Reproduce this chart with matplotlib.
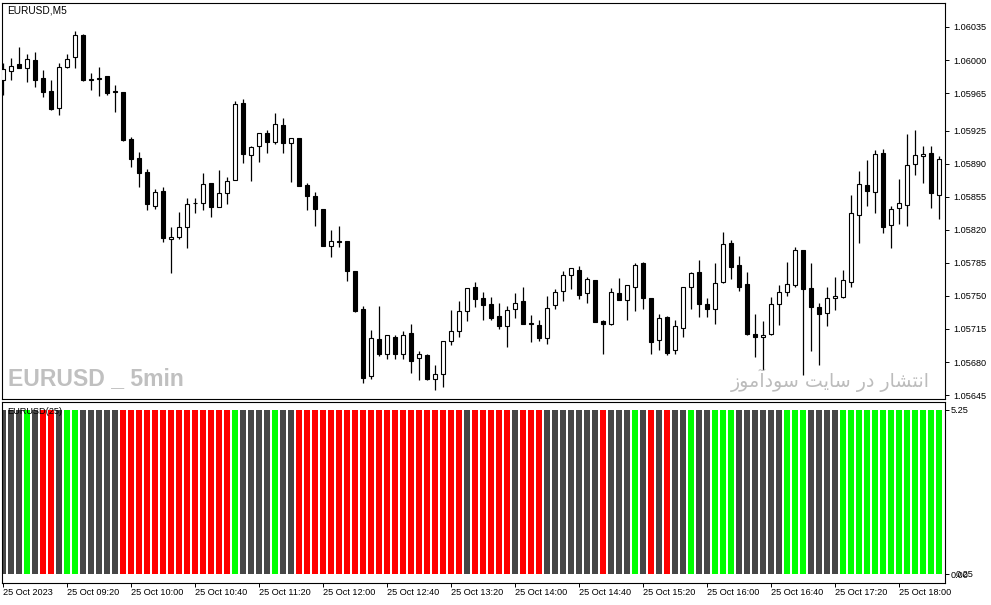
import matplotlib
matplotlib.use("Agg")
import matplotlib.pyplot as plt
import numpy as np

plt.rcParams['font.family'] = ['Liberation Sans', 'DejaVu Sans']

# ---------------- data ----------------
symbol_title = "EURUSD,M5"
indicator_title = "EURUSD(25)"
watermark_en = "EURUSD _ 5min"
# "انتشار در سایت سودآموز" written in shaped (presentation) forms, visual order
watermark_fa = "\uFEAF\uFEEE\uFEE3\uFE81\uFEA9\uFEEE\uFEB3 \uFE96\uFEF3\uFE8E\uFEB3 \uFEAD\uFEA9 \uFEAD\uFE8E\uFEB8\uFE98\uFEE7\uFE8D"

open_ = [1.05979, 1.05988, 1.05996, 1.05992, 1.06000, 1.05981, 1.05967, 1.05949, 1.05993, 1.06003,
         1.06027, 1.05980, 1.05980, 1.05983, 1.05967, 1.05966, 1.05916, 1.05896, 1.05881, 1.05845,
         1.05861, 1.05810, 1.05812, 1.05823, 1.05849, 1.05848, 1.05870, 1.05844, 1.05859, 1.05873,
         1.05954, 1.05899, 1.05909, 1.05923, 1.05913, 1.05931, 1.05912, 1.05917, 1.05868, 1.05856,
         1.05842, 1.05803, 1.05808, 1.05808, 1.05776, 1.05736, 1.05665, 1.05704, 1.05689, 1.05707,
         1.05689, 1.05711, 1.05684, 1.05687, 1.05662, 1.05667, 1.05702, 1.05713, 1.05734, 1.05759,
         1.05748, 1.05741, 1.05729, 1.05718, 1.05736, 1.05745, 1.05721, 1.05719, 1.05705, 1.05740,
         1.05755, 1.05772, 1.05778, 1.05753, 1.05767, 1.05723, 1.05720, 1.05753, 1.05746, 1.05760,
         1.05785, 1.05748, 1.05703, 1.05728, 1.05693, 1.05716, 1.05760, 1.05775, 1.05741, 1.05736,
         1.05765, 1.05806, 1.05783, 1.05763, 1.05710, 1.05706, 1.05710, 1.05741, 1.05754, 1.05762,
         1.05799, 1.05758, 1.05738, 1.05732, 1.05748, 1.05749, 1.05765, 1.05836, 1.05868, 1.05860,
         1.05901, 1.05825, 1.05843, 1.05846, 1.05890, 1.05898, 1.05901, 1.05857]
high = [1.05997, 1.06002, 1.06014, 1.06006, 1.06008, 1.05989, 1.05979, 1.05997, 1.06006, 1.06031,
        1.06028, 1.05986, 1.05993, 1.05983, 1.05974, 1.05966, 1.05918, 1.05903, 1.05885, 1.05863,
        1.05865, 1.05823, 1.05839, 1.05854, 1.05854, 1.05880, 1.05870, 1.05883, 1.05876, 1.05957,
        1.05959, 1.05909, 1.05923, 1.05926, 1.05944, 1.05939, 1.05917, 1.05917, 1.05870, 1.05860,
        1.05842, 1.05820, 1.05824, 1.05808, 1.05776, 1.05739, 1.05714, 1.05739, 1.05709, 1.05709,
        1.05713, 1.05720, 1.05692, 1.05689, 1.05677, 1.05702, 1.05735, 1.05745, 1.05758, 1.05765,
        1.05754, 1.05749, 1.05743, 1.05739, 1.05753, 1.05760, 1.05730, 1.05724, 1.05750, 1.05757,
        1.05776, 1.05780, 1.05782, 1.05770, 1.05767, 1.05724, 1.05758, 1.05769, 1.05762, 1.05785,
        1.05786, 1.05748, 1.05731, 1.05729, 1.05724, 1.05760, 1.05775, 1.05788, 1.05748, 1.05785,
        1.05818, 1.05809, 1.05792, 1.05775, 1.05731, 1.05723, 1.05749, 1.05762, 1.05786, 1.05802,
        1.05799, 1.05785, 1.05743, 1.05760, 1.05770, 1.05778, 1.05857, 1.05882, 1.05894, 1.05905,
        1.05906, 1.05845, 1.05874, 1.05922, 1.05926, 1.05909, 1.05909, 1.05898]
low = [1.05963, 1.05979, 1.05992, 1.05977, 1.05971, 1.05961, 1.05947, 1.05942, 1.05992, 1.05992,
       1.05978, 1.05968, 1.05962, 1.05963, 1.05945, 1.05914, 1.05887, 1.05865, 1.05841, 1.05842,
       1.05807, 1.05774, 1.05810, 1.05801, 1.05838, 1.05841, 1.05834, 1.05844, 1.05847, 1.05873,
       1.05891, 1.05872, 1.05892, 1.05901, 1.05911, 1.05901, 1.05871, 1.05866, 1.05841, 1.05824,
       1.05803, 1.05791, 1.05802, 1.05766, 1.05733, 1.05658, 1.05662, 1.05686, 1.05683, 1.05683,
       1.05683, 1.05668, 1.05661, 1.05661, 1.05650, 1.05653, 1.05698, 1.05707, 1.05723, 1.05738,
       1.05725, 1.05725, 1.05715, 1.05696, 1.05727, 1.05720, 1.05701, 1.05702, 1.05699, 1.05736,
       1.05745, 1.05757, 1.05747, 1.05742, 1.05722, 1.05689, 1.05719, 1.05746, 1.05725, 1.05734,
       1.05736, 1.05689, 1.05693, 1.05687, 1.05689, 1.05707, 1.05736, 1.05728, 1.05728, 1.05720,
       1.05764, 1.05768, 1.05755, 1.05709, 1.05685, 1.05671, 1.05709, 1.05719, 1.05750, 1.05760,
       1.05666, 1.05692, 1.05677, 1.05718, 1.05735, 1.05748, 1.05759, 1.05806, 1.05845, 1.05838,
       1.05817, 1.05801, 1.05826, 1.05824, 1.05878, 1.05870, 1.05843, 1.05831]
close = [1.05990, 1.05994, 1.05992, 1.06001, 1.05979, 1.05966, 1.05948, 1.05993, 1.06001, 1.06027,
         1.05979, 1.05979, 1.05981, 1.05965, 1.05966, 1.05915, 1.05895, 1.05880, 1.05847, 1.05860,
         1.05811, 1.05812, 1.05823, 1.05847, 1.05848, 1.05869, 1.05844, 1.05859, 1.05872, 1.05953,
         1.05900, 1.05908, 1.05923, 1.05913, 1.05932, 1.05912, 1.05917, 1.05866, 1.05856, 1.05842,
         1.05803, 1.05808, 1.05807, 1.05776, 1.05734, 1.05663, 1.05705, 1.05688, 1.05709, 1.05689,
         1.05709, 1.05681, 1.05688, 1.05662, 1.05667, 1.05702, 1.05713, 1.05734, 1.05758, 1.05747,
         1.05740, 1.05727, 1.05718, 1.05735, 1.05742, 1.05720, 1.05720, 1.05705, 1.05737, 1.05754,
         1.05772, 1.05780, 1.05751, 1.05768, 1.05722, 1.05720, 1.05754, 1.05746, 1.05762, 1.05783,
         1.05748, 1.05701, 1.05727, 1.05690, 1.05718, 1.05759, 1.05774, 1.05741, 1.05736, 1.05764,
         1.05805, 1.05781, 1.05760, 1.05710, 1.05706, 1.05709, 1.05741, 1.05754, 1.05763, 1.05799,
         1.05757, 1.05738, 1.05731, 1.05748, 1.05750, 1.05767, 1.05838, 1.05869, 1.05861, 1.05900,
         1.05823, 1.05842, 1.05849, 1.05889, 1.05899, 1.05900, 1.05859, 1.05895]

# indicator state per bar: k = neutral (grey), r = down (red), g = up (green)
ind_states = ("kkkgkrrkggkkkkk" "rrrrrrrrrrrrrr" "g" "kkkk" "g" "kk"
              "rrrrrrrrrrrrrrrrrrrrr" "k" "rrrrr" "k" "rrr" "kkkkkkk" "r" "kkk"
              "g" "k" "r" "k" "r" "kk" "g" "kk" "ggg" "kkkkkk" "ggg" "kkkk"
              "ggggggggggggg")
ind_values = [5.25, 5.25, 5.25, 5.25, 5.25, 5.25, 5.25, 5.25, 5.25, 5.25, 5.25, 5.25,
              5.25, 5.25, 5.25, 5.25, 5.25, 5.25, 5.25, 5.25, 5.25, 5.25, 5.25, 5.25,
              5.25, 5.25, 5.25, 5.25, 5.25, 5.25, 5.25, 5.25, 5.25, 5.25, 5.25, 5.25,
              5.25, 5.25, 5.25, 5.25, 5.25, 5.25, 5.25, 5.25, 5.25, 5.25, 5.25, 5.25,
              5.25, 5.25, 5.25, 5.25, 5.25, 5.25, 5.25, 5.25, 5.25, 5.25, 5.25, 5.25,
              5.25, 5.25, 5.25, 5.25, 5.25, 5.25, 5.25, 5.25, 5.25, 5.25, 5.25, 5.25,
              5.25, 5.25, 5.25, 5.25, 5.25, 5.25, 5.25, 5.25, 5.25, 5.25, 5.25, 5.25,
              5.25, 5.25, 5.25, 5.25, 5.25, 5.25, 5.25, 5.25, 5.25, 5.25, 5.25, 5.25,
              5.25, 5.25, 5.25, 5.25, 5.25, 5.25, 5.25, 5.25, 5.25, 5.25, 5.25, 5.25,
              5.25, 5.25, 5.25, 5.25, 5.25, 5.25, 5.25, 5.25, 5.25, 5.25]

time_labels = ["25 Oct 2023", "25 Oct 09:20", "25 Oct 10:00", "25 Oct 10:40", "25 Oct 11:20",
               "25 Oct 12:00", "25 Oct 12:40", "25 Oct 13:20", "25 Oct 14:00", "25 Oct 14:40",
               "25 Oct 15:20", "25 Oct 16:00", "25 Oct 16:40", "25 Oct 17:20", "25 Oct 18:00"]
time_label_bars = [0, 8, 16, 24, 32, 40, 48, 56, 64, 72, 80, 88, 96, 104, 112]

price_ticks = [1.06035, 1.06000, 1.05965, 1.05925, 1.05890, 1.05855, 1.05820,
               1.05785, 1.05750, 1.05715, 1.05680, 1.05645]
ind_ticks = [0.0, 5.25]
ind_tick_labels = ["0.00", "5.25"]
ind_extra_label = "0.25"

state_colors = {'k': '#464646', 'r': '#ff0000', 'g': '#00ff00'}

# ---------------- figure ----------------
W, H = 991, 605
fig = plt.figure(figsize=(W / 100, H / 100), dpi=100)
fig.patch.set_facecolor('white')

def px_rect(l, t, r, b):
    return [l / W, 1 - b / H, (r - l) / W, (b - t) / H]

ax = fig.add_axes(px_rect(2, 3, 945, 399))
ax2 = fig.add_axes(px_rect(2, 401.5, 945, 583))

o = np.array(open_); h = np.array(high); l = np.array(low); c = np.array(close)
n = len(o)
x = np.arange(n)
up = c >= o
lo = np.minimum(o, c)
bh = np.abs(c - o)

ax.vlines(x, l, h, color='black', linewidth=0.9, zorder=2)
ax.bar(x, bh, bottom=lo, width=0.55,
       color=['white' if u else 'black' for u in up],
       edgecolor='black', linewidth=0.8, zorder=3)

ax.set_xlim(-0.125, 117.75)
ax.set_ylim(1.056408, 1.060604)
ax.set_xticks([])
ax.yaxis.tick_right()
ax.set_yticks(price_ticks)
ax.set_yticklabels([f"{v:.5f}" for v in price_ticks])
ax.tick_params(axis='y', direction='out', length=3, width=0.7, labelsize=6.6, pad=3.0,
               colors='black')
for s in ax.spines.values():
    s.set_linewidth(0.8)
    s.set_color('black')

# indicator panel
ax2.bar(x, ind_values, width=0.86, color=[state_colors[s] for s in ind_states],
        linewidth=0, zorder=2)
ax2.set_xlim(-0.125, 117.75)
ax2.set_ylim(-0.288, 5.522)
ax2.yaxis.tick_right()
ax2.set_yticks(ind_ticks)
ax2.set_yticklabels(ind_tick_labels)
ax2.tick_params(axis='y', direction='out', length=3, width=0.7, labelsize=6.6, pad=1.0)
ax2.set_xticks(time_label_bars)
ax2.set_xticklabels(time_labels)
for lbl in ax2.get_xticklabels():
    lbl.set_ha('left')
ax2.tick_params(axis='x', direction='out', length=3, width=0.7, labelsize=6.6, pad=0.8)
for s in ax2.spines.values():
    s.set_linewidth(0.8)
    s.set_color('black')
t025 = ax2.text(119.1, 0.0, ind_extra_label, fontsize=6.6, va='center', ha='left')
t025.set_clip_on(False)

# texts
fig.text(7 / W, 1 - 10.5 / H, symbol_title, fontsize=7.3, va='center', ha='left')
fig.text(7 / W, 1 - 411 / H, indicator_title, fontsize=6.6, va='center', ha='left', zorder=10)
fig.text(8 / W, 1 - 379 / H, watermark_en, fontsize=16.6, fontweight='bold',
         family=['Liberation Sans', 'DejaVu Sans'], color='#c0c0c0',
         va='center', ha='left')
fig.text(930 / W, 1 - 380 / H, watermark_fa, fontsize=13.7, family=['DejaVu Sans'],
         color='#bcbcbc', va='center', ha='right')

fig.savefig("out.png", dpi=100)
